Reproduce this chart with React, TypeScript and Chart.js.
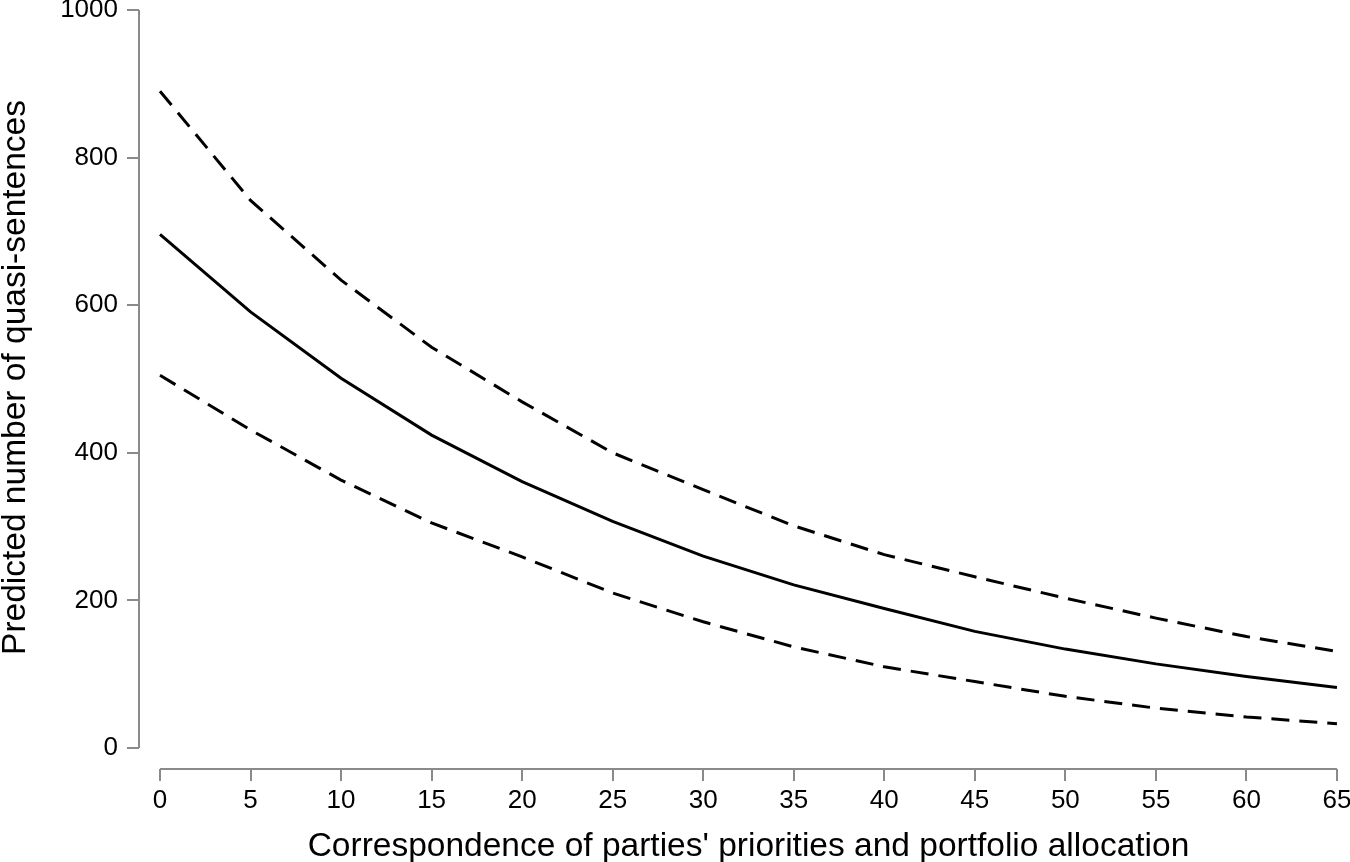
import React, { useEffect, useRef } from "react";
import { Chart, registerables } from "chart.js";

Chart.register(...registerables);

const xValues = [0, 5, 10, 15, 20, 25, 30, 35, 40, 45, 50, 55, 60, 65];
const predicted = [696, 591, 501, 424, 361, 307, 260, 221, 189, 158, 134, 114, 97, 82];
const upperBound = [890, 742, 634, 543, 469, 400, 350, 301, 262, 232, 203, 176, 151, 131];
const lowerBound = [505, 431, 363, 305, 259, 210, 171, 137, 110, 90, 70, 54, 42, 33];
const xTicks = [0, 5, 10, 15, 20, 25, 30, 35, 40, 45, 50, 55, 60, 65];
const yTicks = [0, 200, 400, 600, 800, 1000];

const xTitle = "Correspondence of parties' priorities and portfolio allocation";
const yTitle = "Predicted number of quasi-sentences";

const FONT = "'Liberation Sans', Arial, Helvetica, sans-serif";
const AXIS_COLOR = "#8a8a8a";
const TITLE_SIZE = 33.5;

const axisLinesPlugin = {
  id: "axisLines",
  afterDraw(chart: any) {
    const { ctx, chartArea, scales } = chart;
    const xs = scales.x;
    const ys = scales.y;
    ctx.save();
    ctx.strokeStyle = AXIS_COLOR;
    ctx.lineWidth = 2;
    ctx.beginPath();
    const lx = chartArea.left;
    ctx.moveTo(lx, ys.getPixelForValue(yTicks[0]));
    ctx.lineTo(lx, ys.getPixelForValue(yTicks[yTicks.length - 1]));
    const by = chartArea.bottom;
    ctx.moveTo(xs.getPixelForValue(xTicks[0]), by);
    ctx.lineTo(xs.getPixelForValue(xTicks[xTicks.length - 1]), by);
    ctx.stroke();

    // axis titles (R-style placement)
    ctx.fillStyle = "#000";
    ctx.font = `${TITLE_SIZE}px ${FONT}`;
    ctx.textBaseline = "alphabetic";
    ctx.textAlign = "center";
    const xMid = (xs.getPixelForValue(xTicks[0]) + xs.getPixelForValue(xTicks[xTicks.length - 1])) / 2;
    ctx.fillText(xTitle, xMid + 0, 856);

    const yMid = (ys.getPixelForValue(yTicks[0]) + ys.getPixelForValue(yTicks[yTicks.length - 1])) / 2;
    ctx.translate(25, yMid - 1.5);
    ctx.rotate(-Math.PI / 2);
    ctx.fillText(yTitle, 0, 0);
    ctx.restore();
  },
};

export default function App() {
  const ref = useRef<HTMLCanvasElement | null>(null);

  useEffect(() => {
    if (!ref.current) return;
    const mk = (vals: number[]) => xValues.map((x, i) => ({ x, y: vals[i] }));
    const chart = new Chart(ref.current, {
      type: "line",
      data: {
        datasets: [
          {
            label: "Upper",
            data: mk(upperBound),
            borderColor: "#000",
            borderWidth: 3,
            borderDash: [18, 10],
            pointRadius: 0,
            tension: 0,
            fill: false,
          },
          {
            label: "Predicted",
            data: mk(predicted),
            borderColor: "#000",
            borderWidth: 3,
            pointRadius: 0,
            tension: 0,
            fill: false,
          },
          {
            label: "Lower",
            data: mk(lowerBound),
            borderColor: "#000",
            borderWidth: 3,
            borderDash: [18, 10],
            pointRadius: 0,
            tension: 0,
            fill: false,
          },
        ],
      },
      options: {
        animation: false,
        responsive: false,
        devicePixelRatio: 1,
        layout: { padding: { top: 10, right: 4, left: 0, bottom: 0 } },
        plugins: {
          legend: { display: false },
          tooltip: { enabled: false },
        },
        scales: {
          x: {
            type: "linear",
            min: -1.16,
            max: 65.5,
            afterBuildTicks: (s: any) => {
              s.ticks = xTicks.map((v) => ({ value: v }));
            },
            afterFit: (s: any) => {
              s.height = 93;
              s.paddingLeft = 0;
              s.paddingRight = 0;
            },
            border: { display: false },
            grid: {
              drawOnChartArea: false,
              drawTicks: true,
              tickLength: 12,
              color: AXIS_COLOR,
              lineWidth: 2,
            },
            ticks: {
              autoSkip: false,
              maxRotation: 0,
              padding: 4,
              color: "#000",
              font: { family: FONT, size: 26 },
              callback: (v: any) => String(v),
            },
            title: { display: false },
          },
          y: {
            type: "linear",
            min: -28.46,
            max: 1000,
            afterBuildTicks: (s: any) => {
              s.ticks = yTicks.map((v) => ({ value: v }));
            },
            afterFit: (s: any) => {
              s.width = 139;
              s.paddingTop = 0;
              s.paddingBottom = 0;
            },
            border: { display: false },
            grid: {
              drawOnChartArea: false,
              drawTicks: true,
              tickLength: 12,
              color: AXIS_COLOR,
              lineWidth: 2,
            },
            ticks: {
              autoSkip: false,
              padding: 9,
              color: "#000",
              font: { family: FONT, size: 26 },
              callback: (v: any) => String(v),
            },
            title: { display: false },
          },
        },
      },
      plugins: [axisLinesPlugin],
    });
    return () => chart.destroy();
  }, []);

  return (
    <div style={{ position: "fixed", left: 0, top: 0, width: 1350, height: 862, background: "#fff" }}>
      <canvas ref={ref} width={1350} height={862} style={{ display: "block" }} />
    </div>
  );
}
